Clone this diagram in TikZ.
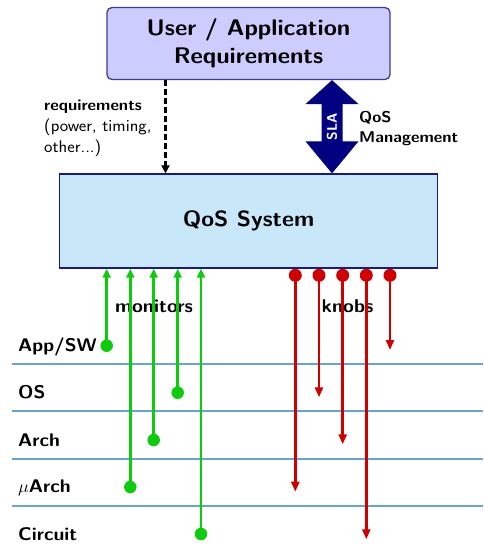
\documentclass[tikz,border=0pt]{standalone}
\usepackage{fontspec}
\usepackage{graphicx}
\usetikzlibrary{arrows.meta,calc}

\definecolor{reqfill}{RGB}{204,204,255}
\definecolor{reqline}{RGB}{60,60,150}
\definecolor{qosfill}{RGB}{200,232,250}
\definecolor{qosline}{RGB}{25,25,140}
\definecolor{slanavy}{RGB}{0,0,128}
\definecolor{mongreen}{RGB}{12,204,12}
\definecolor{knobred}{RGB}{208,0,0}
\definecolor{layerblue}{RGB}{100,165,210}

% slightly widened lettering
\newcommand{\hstretch}[1]{\scalebox{1.06}[1]{#1}}

\tikzset{
  x=1pt, y=-1pt,
  topbox/.style={draw=reqline, line width=1.3pt, fill=reqfill, rounded corners=5pt,
    align=center, font=\sffamily\bfseries\fontsize{22.6}{28}\selectfont,
    minimum width=283pt, minimum height=72pt, inner sep=0pt},
  qosbox/.style={draw=qosline, line width=1.3pt, fill=qosfill,
    font=\sffamily\bfseries\fontsize{22}{26}\selectfont,
    minimum width=378pt, minimum height=94pt, inner sep=0pt},
  dasharrow/.style={line width=2.6pt, dash pattern=on 6pt off 3pt,
    -{Triangle[width=8pt,length=8pt]}},
  mon/.style={mongreen, line width=2.6pt, -{Triangle[width=8pt,length=9pt]}},
  knob/.style={knobred, line width=2.6pt, -{Triangle[width=8pt,length=10pt]}},
  gdot/.style={circle, fill=mongreen, minimum size=12.5pt, inner sep=0pt},
  rdot/.style={circle, fill=knobred, minimum size=13pt, inner sep=0pt},
  layerline/.style={layerblue, line width=1.8pt},
  layerlabel/.style={anchor=base west, inner sep=0pt,
    font=\sffamily\bfseries\fontsize{18.3}{21}\selectfont},
  smalllabel/.style={anchor=base west, inner sep=0pt, align=left,
    font=\sffamily\fontsize{16.9}{21}\selectfont},
  tag/.style={anchor=base, inner sep=0pt,
    font=\sffamily\bfseries\fontsize{18.6}{22}\selectfont},
}

\begin{document}
\begin{tikzpicture}
\useasboundingbox (0,0) rectangle (483,551);

% main boxes
\node[topbox] (req) at (248.5,43.5)
  {\hstretch{User / Application}\\\hstretch{Requirements}};
\node[qosbox] (qos) at (248.5,221) {\hstretch{QoS System}};

% requirements flow (dashed)
\coordinate (dx) at (165.5,0);
\draw[dasharrow] (req.south -| dx) -- (qos.north -| dx);
\node[smalllabel] (reqtxt) at (44,152)
  {\hstretch{\fontsize{15.6}{21}\selectfont\bfseries requirements}\\
   \hstretch{(power, timing,}\\\hstretch{other...)}};

% SLA double arrow
\coordinate (sx) at (332,0);
\coordinate (slaT) at (req.south -| sx);
\coordinate (slaB) at (qos.north -| sx);
\fill[slanavy] (slaT) -- ([shift={(26.5,24)}]slaT) -- ([shift={(10.5,24)}]slaT)
  -- ([shift={(10.5,-32)}]slaB) -- ([shift={(26.5,-32)}]slaB) -- (slaB)
  -- ([shift={(-26.5,-32)}]slaB) -- ([shift={(-10.5,-32)}]slaB)
  -- ([shift={(-10.5,24)}]slaT) -- ([shift={(-26.5,24)}]slaT) -- cycle;
\node[rotate=90, text=white, inner sep=0pt,
  font=\sffamily\bfseries\fontsize{14}{16}\selectfont] (sla)
  at ($(slaT)!0.5!(slaB)$) {SLA};
\node[anchor=base west, inner sep=0pt, align=left,
  font=\sffamily\bfseries\fontsize{15.6}{20}\selectfont] (qosm) at (359,142)
  {\hstretch{QoS}\\\hstretch{Management}};

% abstraction layers
\foreach \yy in {364.3,411.3,458.6,505.6}
  \draw[layerline] (12,\yy) -- (483,\yy);
\node[layerlabel] (lapp)  at (18,351.5) {\hstretch{App/SW}};
\node[layerlabel] (los)   at (18,398)   {\hstretch{OS}};
\node[layerlabel] (larch) at (18,446)   {\hstretch{Arch}};
\node[layerlabel] (lua)   at (18,492.5) {\hstretch{$\mu$Arch}};
\node[layerlabel] (lcir)  at (18,540)   {\hstretch{Circuit}};

% monitors: from each layer up into the QoS system
\node[tag] (montxt) at (154,312) {\hstretch{monitors}};
\node[gdot] (m1) at (106.7,345.7) {};
\node[gdot] (m2) at (130.3,487)   {};
\node[gdot] (m3) at (153.7,440)   {};
\node[gdot] (m4) at (177.7,392.7) {};
\node[gdot] (m5) at (201,534)     {};
\foreach \m in {m1,m2,m3,m4,m5}
  \draw[mon] (\m.center) -- (\m |- qos.south);

% knobs: from the QoS system down into each layer
\node[tag] (knobtxt) at (347.5,312) {\hstretch{knobs}};
\node[rdot] (k1) at (295.3,275.3) {};
\node[rdot] (k2) at (319,275.3)   {};
\node[rdot] (k3) at (342.7,275.3) {};
\node[rdot] (k4) at (366.3,275.3) {};
\node[rdot] (k5) at (390,275.3)   {};
\coordinate (e1) at (295.3,491.7);
\coordinate (e2) at (319,397.3);
\coordinate (e3) at (342.7,444.3);
\coordinate (e4) at (366.3,539.3);
\coordinate (e5) at (390,350);
\foreach \k/\e in {k1/e1,k2/e2,k3/e3,k4/e4,k5/e5}
  \draw[knob] (\k.center) -- (\e);
\end{tikzpicture}
\end{document}
